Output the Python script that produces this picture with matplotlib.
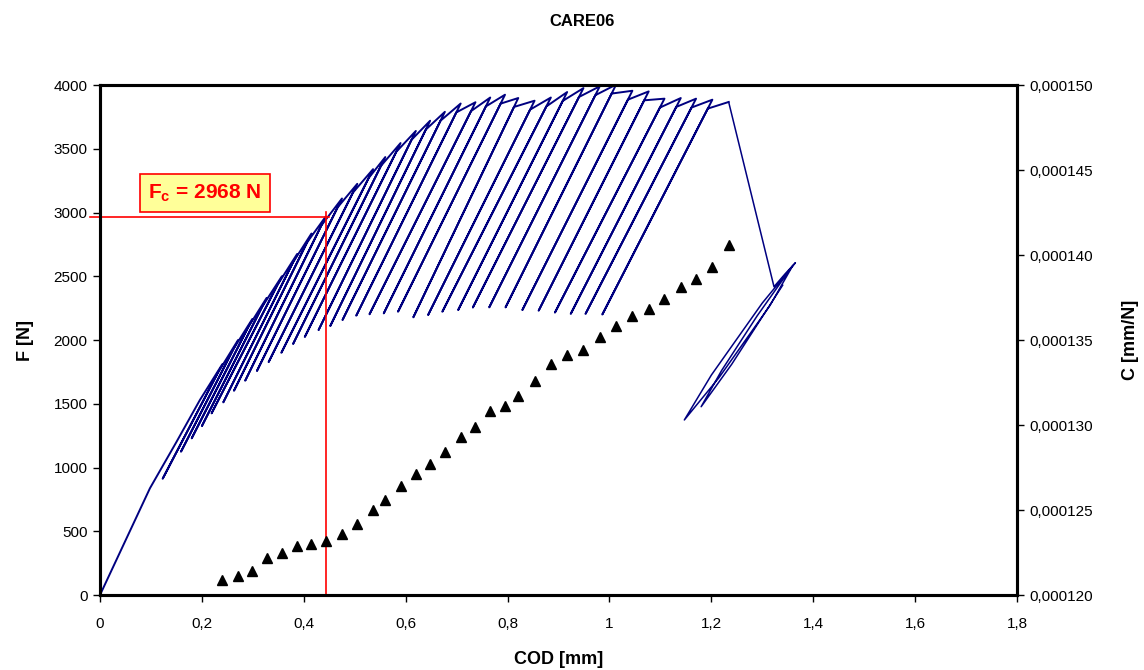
import matplotlib
matplotlib.use("Agg")
import matplotlib.pyplot as plt
from matplotlib.ticker import FuncFormatter, MultipleLocator

plt.rcParams['font.family'] = ['Liberation Sans', 'DejaVu Sans']
plt.rcParams['mathtext.fontset'] = 'custom'
plt.rcParams['mathtext.rm'] = 'Liberation Sans'
plt.rcParams['mathtext.bf'] = 'Liberation Sans:bold'

# ---------------- data ----------------
# initial loading branch before the first unloading
lead_cod = [0.0, 0.098, 0.150, 0.196]
lead_f = [0, 837, 1200, 1529]

# peaks of the load/unload cycles (COD [mm], F [N])
peak_cod = [0.240, 0.271, 0.299, 0.327, 0.357, 0.387, 0.415, 0.443, 0.475, 0.505,
            0.536, 0.560, 0.590, 0.620, 0.648, 0.677, 0.708, 0.737, 0.766, 0.795,
            0.821, 0.853, 0.885, 0.917, 0.949, 0.981, 1.013, 1.045, 1.077, 1.108,
            1.140, 1.170, 1.202, 1.234]
peak_f = [1810, 2000, 2165, 2330, 2500, 2675, 2835, 2968, 3110, 3225,
          3340, 3435, 3545, 3640, 3720, 3790, 3855, 3865, 3902, 3924,
          3898, 3877, 3902, 3945, 3976, 3990, 4003, 3955, 3950, 3893,
          3898, 3893, 3885, 3867]

# unloading minima (valleys) of cycles 1..33
valley_cod = [0.123, 0.159, 0.180, 0.200, 0.219, 0.242, 0.263, 0.285, 0.308, 0.331,
              0.356, 0.379, 0.402, 0.429, 0.452, 0.476, 0.503, 0.529, 0.557, 0.585,
              0.615, 0.644, 0.672, 0.703, 0.732, 0.764, 0.796, 0.829, 0.861, 0.893,
              0.924, 0.953, 0.986]
valley_f = [912, 1124, 1229, 1325, 1425, 1511, 1602, 1681, 1757, 1827,
            1900, 1969, 2024, 2078, 2110, 2157, 2191, 2202, 2209, 2222,
            2178, 2196, 2222, 2235, 2256, 2256, 2256, 2235, 2230, 2215,
            2205, 2205, 2200]

# load drop below each peak where the reloading rejoins the envelope [N]
hook_drop = 70

# final drop and the two small loops at the end of the test
tail_cod = [1.323, 1.345, 1.365, 1.300, 1.200, 1.147, 1.215, 1.315, 1.360,
            1.290, 1.220, 1.180, 1.240, 1.340]
tail_f = [2418, 2520, 2606, 2290, 1725, 1373, 1705, 2270, 2585,
          2190, 1760, 1477, 1810, 2430]

# compliance (triangles)
c_cod = [0.240, 0.271, 0.299, 0.327, 0.357, 0.387, 0.415, 0.443, 0.475, 0.505,
         0.536, 0.560, 0.590, 0.620, 0.648, 0.677, 0.708, 0.737, 0.766, 0.795,
         0.821, 0.853, 0.885, 0.917, 0.949, 0.981, 1.013, 1.045, 1.077, 1.108,
         1.140, 1.170, 1.202, 1.234]
c_val = [0.0001209, 0.0001211, 0.0001214, 0.0001222, 0.0001225, 0.0001229, 0.0001230,
         0.0001232, 0.0001236, 0.0001242, 0.0001250, 0.0001256, 0.0001264, 0.0001271,
         0.0001277, 0.0001284, 0.0001293, 0.0001299, 0.0001308, 0.0001311, 0.0001317,
         0.0001326, 0.0001336, 0.0001341, 0.0001344, 0.0001352, 0.0001358, 0.0001364,
         0.0001368, 0.0001374, 0.0001381, 0.0001386, 0.0001393, 0.0001406]

fc_cod = 0.443
fc_value = 2968

x_ticks = [0.0, 0.2, 0.4, 0.6, 0.8, 1.0, 1.2, 1.4, 1.6, 1.8]
# ----------------------------------------------------------------

# build the load-COD path
xs = list(lead_cod)
fs = list(lead_f)
for i in range(len(peak_cod)):
    xs.append(peak_cod[i]); fs.append(peak_f[i])
    if i < len(valley_cod):
        xs.append(valley_cod[i]); fs.append(valley_f[i])
        ftop = peak_f[i] - hook_drop
        t = (ftop - valley_f[i]) / (peak_f[i] - valley_f[i])
        xs.append(valley_cod[i] + t * (peak_cod[i] - valley_cod[i])); fs.append(ftop)

fig = plt.figure(figsize=(11.44, 6.70), dpi=100)
ax = fig.add_axes([0.0874, 0.1119, 0.8016, 0.7612])
ax2 = ax.twinx()

ax.plot(xs, fs, color='#000080', lw=1.4, zorder=3)
ax.plot([peak_cod[-1]] + tail_cod, [peak_f[-1]] + tail_f, color='#000080', lw=1.1, zorder=3)

ax2.plot(c_cod, c_val, linestyle='none', marker='^', color='black', markersize=7)

ax.set_xlim(0, 1.8)
ax.set_ylim(0, 4000)
ax2.set_ylim(0.000120, 0.000150)

ax.set_xticks(x_ticks)
ax.yaxis.set_major_locator(MultipleLocator(500))
ax2.yaxis.set_major_locator(MultipleLocator(0.000005))

ax.xaxis.set_major_formatter(FuncFormatter(lambda v, p: f'{v:g}'.replace('.', ',')))
ax.yaxis.set_major_formatter(FuncFormatter(lambda v, p: f'{v:.0f}'))
ax2.yaxis.set_major_formatter(FuncFormatter(lambda v, p: f'{v:.6f}'.replace('.', ',')))

for a in (ax, ax2):
    a.tick_params(direction='out', length=5, width=1, labelsize=11, pad=4)
    for s in a.spines.values():
        s.set_linewidth(2.2)
        s.set_color('black')
ax.tick_params(axis='x', pad=11)

# Fc annotation
ax.plot([-0.02, fc_cod + 0.006], [fc_value, fc_value], color='red', lw=1.2, clip_on=False, zorder=4)
ax.plot([fc_cod, fc_cod], [0, fc_value + 40], color='red', lw=1.2, zorder=4)
ax.text(0.206, 3153, r'$\mathbf{F_c}$ = 2968 N', color='red', fontsize=15, fontweight='bold',
        ha='center', va='center', zorder=5,
        bbox=dict(boxstyle='square,pad=0.4', facecolor='#FFFF99', edgecolor='red', linewidth=1.2))

ax.set_xlabel('COD [mm]', fontsize=13, fontweight='bold', labelpad=14)
ax.set_ylabel('F [N]', fontsize=13, fontweight='bold', labelpad=14)
ax2.set_ylabel('C [mm/N]', fontsize=13, fontweight='bold', labelpad=21)
fig.text(582 / 1144, 1 - 22 / 670, 'CARE06', ha='center', va='center', fontsize=12, fontweight='bold')

fig.savefig('out.png', dpi=100)
